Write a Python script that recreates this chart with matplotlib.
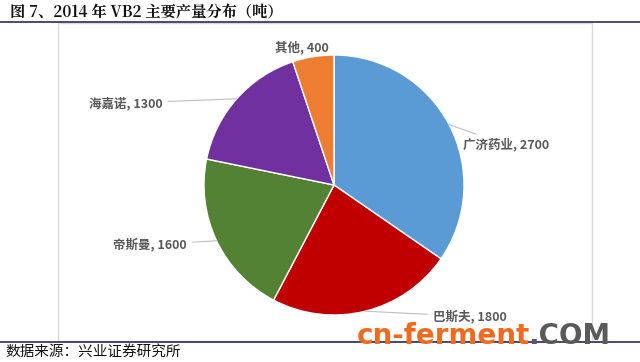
import numpy as np
import matplotlib
matplotlib.use("Agg")
import matplotlib.pyplot as plt
from matplotlib.patches import Rectangle

plt.rcParams['font.family'] = ['Noto Sans CJK SC', 'DejaVu Sans']

# data
companies = ['广济药业', '巴斯夫', '帝斯曼', '海嘉诺', '其他']
output_t = [2700, 1800, 1600, 1300, 400]
colors = ['#5B9BD5', '#C00000', '#548235', '#7030A0', '#ED7D31']

# label placement (in pie radius units) and alignment
label_pos = [(0.99, 0.31), (0.76, -1.01), (-1.13, -0.46), (-1.32, 0.63), (-0.25, 1.06)]
label_ha = ['left', 'left', 'right', 'right', 'center']
leader = [True, True, True, True, False]

fig = plt.figure(figsize=(6.4, 3.62), dpi=100)
W, H = 640.0, 362.0

# chart frame
fig.patches.append(Rectangle((58 / W, 1 - 341 / H), (592 - 58) / W, (341 - 23) / H,
                             transform=fig.transFigure, fill=False,
                             edgecolor='#D9D9D9', linewidth=1.0, zorder=0))
# title + rules
fig.text(10 / W, 1 - 12.5 / H, '图 7、2014 年 VB2 主要产量分布（吨）', fontsize=11,
         fontweight='bold', va='center', ha='left', color='#111111',
         family=['Noto Serif CJK SC', 'Noto Sans CJK SC', 'DejaVu Sans'])
fig.add_artist(plt.Line2D([0, 1], [1 - 21.5 / H, 1 - 21.5 / H], transform=fig.transFigure,
                          color='#2B2B55', linewidth=1.2))
fig.add_artist(plt.Line2D([0, 1], [1 - 342 / H, 1 - 342 / H], transform=fig.transFigure,
                          color='#2B2B55', linewidth=1.2))
fig.text(5 / W, 1 - 352 / H, '数据来源：兴业证券研究所', fontsize=10.5, va='center',
         ha='left', color='#111111')

# pie
cx, cy, r = 334, 185, 130
half = 150
ax = fig.add_axes([(cx - half) / W, 1 - (cy + half) / H, 2 * half / W, 2 * half / H])
wedges, _ = ax.pie(output_t, colors=colors, startangle=90, counterclock=False,
                   radius=1.0, wedgeprops=dict(edgecolor='white', linewidth=1.0))
ax.set_xlim(-half / r, half / r)
ax.set_ylim(-half / r, half / r)
ax.set_aspect('equal')
ax.axis('off')

for w, name, val, pos, ha, ld in zip(wedges, companies, output_t, label_pos, label_ha, leader):
    mid = np.deg2rad((w.theta1 + w.theta2) / 2)
    edge = (np.cos(mid), np.sin(mid))
    txt = '%s, %d' % (name, val)
    if ld:
        ax.annotate(txt, xy=edge, xytext=pos, ha=ha, va='center', fontsize=9,
                    fontweight='bold', color='#595959', annotation_clip=False,
                    arrowprops=dict(arrowstyle='-', color='#BFBFBF', lw=0.8,
                                    shrinkA=2, shrinkB=0))
    else:
        ax.text(pos[0], pos[1], txt, ha=ha, va='center', fontsize=9,
                fontweight='bold', color='#595959', clip_on=False)

# watermark
wm1 = fig.text(357 / W, 1 - 336 / H, 'cn-ferment', fontsize=20, fontweight='bold',
               color='#EE6A1F', va='center', ha='left', family='DejaVu Sans')
fig.canvas.draw()
bb = wm1.get_window_extent()
fig.text((bb.x1 - 2) / W, 1 - 336 / H, '.COM', fontsize=20, fontweight='bold',
         color='#5A5A5A', va='center', ha='left', family='DejaVu Sans')

fig.savefig('out.png', dpi=100)
